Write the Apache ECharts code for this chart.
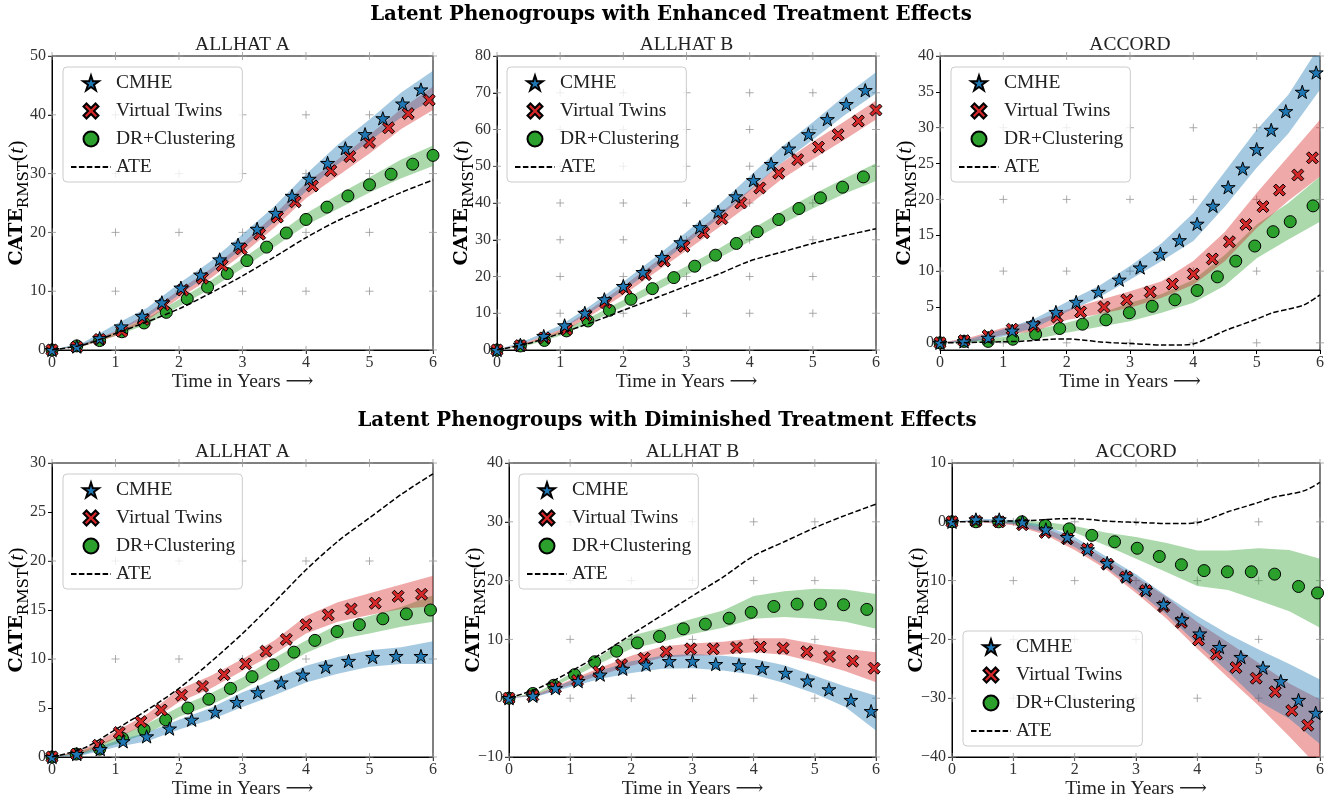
<!DOCTYPE html>
<html>
<head>
<meta charset="utf-8">
<script src="https://cdn.jsdelivr.net/npm/echarts@6/dist/echarts.min.js"></script>
<style>
  html, body { margin: 0; background: #fff; }
  #chart { width: 1340px; height: 801px; }
</style>
</head>
<body>
<div id="chart"></div>
<script>
// time grid the confidence bands are read on
const bandTime = [0, 0.5, 1, 1.5, 2, 2.5, 3, 3.5, 4, 4.5, 5, 5.5, 6]
const ateTimeAccord = [0, 0.25, 0.5, 0.75, 1, 1.25, 1.5, 1.75, 2, 2.25, 2.5, 2.75, 3, 3.25, 3.5, 3.75, 4, 4.25, 4.5, 4.75, 5, 5.25, 5.5, 5.75, 6]

// ATE curves (same for both phenogroup settings)
const aAte = [0, 0.9, 2.8, 4.8, 7.0, 9.7, 12.6, 15.8, 19.1, 22.0, 24.4, 26.8, 28.9]
const bAte = [0, 1.8, 4.5, 7.5, 10.8, 14.1, 17.4, 20.6, 24.2, 26.6, 29.0, 31.1, 33.0]
const cAte = [0, 0, 0.05, 0.1, 0.15, 0.2, 0.35, 0.5, 0.55, 0.4, 0.15, 0, -0.1, -0.2, -0.3, -0.3, -0.15, 0.7, 1.7, 2.5, 3.3, 4.2, 4.7, 5.3, 6.7]

// ---- enhanced, ALLHAT A
const aEnhCmheT = [0, 0.39, 0.75, 1.09, 1.42, 1.73, 2.03, 2.34, 2.64, 2.93, 3.23, 3.52, 3.78, 4.05, 4.34, 4.62, 4.93, 5.21, 5.52, 5.81]
const aEnhCmheY = [0, 0.6, 2.0, 4.0, 5.8, 8.1, 10.6, 12.8, 15.4, 17.9, 20.6, 23.3, 26.2, 29.1, 31.8, 34.3, 36.7, 39.4, 41.9, 44.3]
const aEnhCmheLo = [0, 0.8, 3.1, 5.6, 9.4, 13.0, 17.3, 21.8, 27.0, 31.6, 35.5, 39.6, 42.6]
const aEnhCmheHi = [0, 1.3, 4.4, 7.2, 11.3, 15.1, 19.7, 24.4, 29.9, 34.9, 39.2, 43.8, 47.5]
const aEnhVtT = [0, 0.39, 0.75, 1.1, 1.44, 1.76, 2.06, 2.37, 2.68, 2.98, 3.27, 3.55, 3.83, 4.1, 4.39, 4.69, 5.0, 5.3, 5.61, 5.94]
const aEnhVtY = [0, 0.5, 1.8, 3.2, 5.2, 7.7, 10.2, 12.2, 14.4, 17.2, 19.7, 22.6, 25.2, 27.9, 30.5, 32.9, 35.3, 37.8, 40.2, 42.5]
const aEnhVtLo = [0, 0.7, 2.4, 5.0, 8.8, 12.2, 16.3, 20.8, 25.8, 29.6, 33.4, 37.6, 40.8]
const aEnhVtHi = [0, 1.1, 3.2, 6.2, 10.2, 13.8, 18.1, 23.0, 28.4, 32.4, 36.6, 41.0, 44.8]
const aEnhDrT = [0, 0.39, 0.75, 1.1, 1.45, 1.8, 2.13, 2.45, 2.76, 3.07, 3.38, 3.69, 4.0, 4.33, 4.66, 5.0, 5.34, 5.68, 6.0]
const aEnhDrY = [0, 0.7, 1.6, 3.1, 4.6, 6.4, 8.7, 10.7, 13.0, 15.2, 17.5, 19.9, 22.2, 24.3, 26.2, 28.1, 29.9, 31.6, 33.1]
const aEnhDrLo = [0, 0.7, 2.4, 4.4, 7.4, 10.4, 13.9, 17.5, 21.2, 24.0, 26.8, 29.2, 31.3]
const aEnhDrHi = [0, 1.1, 3.0, 5.4, 8.6, 11.8, 15.5, 19.3, 23.2, 26.4, 29.4, 32.4, 34.8]

// ---- enhanced, ALLHAT B
const bEnhCmheT = [0, 0.37, 0.74, 1.07, 1.39, 1.7, 2.0, 2.31, 2.61, 2.91, 3.21, 3.5, 3.78, 4.06, 4.34, 4.62, 4.93, 5.23, 5.53, 5.83]
const bEnhCmheY = [0, 1.4, 3.8, 6.7, 10.1, 13.8, 17.4, 21.2, 25.3, 29.3, 33.4, 37.6, 41.8, 46.2, 50.6, 54.8, 58.7, 62.8, 66.9, 70.7]
const bEnhCmheLo = [0, 2.3, 5.5, 10.5, 16.2, 22.4, 28.9, 35.8, 43.3, 50.8, 57.2, 63.9, 69.8]
const bEnhCmheHi = [0, 2.9, 6.7, 12.3, 18.6, 25.2, 32.1, 39.4, 47.3, 55.2, 62.0, 69.1, 75.6]
const bEnhVtT = [0, 0.37, 0.75, 1.1, 1.41, 1.72, 2.04, 2.35, 2.65, 2.96, 3.27, 3.56, 3.86, 4.16, 4.46, 4.76, 5.09, 5.4, 5.72, 6.0]
const bEnhVtY = [0, 1.2, 3.3, 5.6, 9.4, 12.9, 16.7, 20.5, 24.2, 28.2, 31.9, 35.7, 40.0, 44.1, 48.1, 51.8, 55.2, 58.6, 62.3, 65.3]
const bEnhVtLo = [0, 1.7, 4.4, 9.5, 15.0, 21.0, 27.1, 33.2, 39.6, 46.4, 51.9, 57.2, 62.7]
const bEnhVtHi = [0, 2.3, 5.6, 11.3, 17.4, 23.8, 30.3, 36.8, 43.6, 50.8, 56.7, 62.2, 67.9]
const bEnhDrT = [0, 0.37, 0.75, 1.1, 1.44, 1.78, 2.12, 2.46, 2.8, 3.13, 3.46, 3.79, 4.12, 4.46, 4.78, 5.12, 5.47, 5.8]
const bEnhDrY = [0, 1.1, 2.6, 5.2, 7.9, 10.8, 13.8, 16.7, 19.7, 22.8, 25.8, 29.0, 32.2, 35.5, 38.5, 41.4, 44.3, 47.1]
const bEnhDrLo = [0, 1.3, 3.9, 7.7, 11.8, 16.0, 20.4, 24.9, 29.5, 34.2, 38.5, 42.5, 46.0]
const bEnhDrHi = [0, 1.9, 5.1, 9.1, 13.6, 18.2, 22.8, 27.5, 32.5, 37.6, 42.3, 46.7, 50.8]

// ---- enhanced, ACCORD
const cEnhCmheT = [0, 0.38, 0.76, 1.14, 1.47, 1.83, 2.15, 2.5, 2.83, 3.16, 3.48, 3.78, 4.06, 4.31, 4.55, 4.78, 5.0, 5.23, 5.46, 5.72, 5.94]
const cEnhCmheY = [0, 0.2, 0.7, 1.7, 2.7, 4.3, 5.7, 7.1, 8.8, 10.5, 12.4, 14.3, 16.6, 19.1, 21.7, 24.3, 27.0, 29.7, 32.3, 35.0, 37.7]
const cEnhCmheLo = [0, 0.1, 0.9, 2.1, 4.3, 6.3, 8.8, 11.4, 14.2, 19.0, 24.4, 29.2, 35.3]
const cEnhCmheHi = [0, 0.6, 1.9, 3.4, 5.7, 7.9, 10.7, 13.9, 18.1, 23.9, 29.7, 34.6, 41.5]
const cEnhVtT = [0, 0.38, 0.76, 1.14, 1.49, 1.85, 2.22, 2.59, 2.95, 3.32, 3.67, 4.0, 4.3, 4.57, 4.83, 5.1, 5.36, 5.65, 5.88]
const cEnhVtY = [0, 0.3, 1.0, 1.9, 2.3, 3.6, 4.3, 5.0, 6.0, 7.1, 8.2, 9.6, 11.7, 14.1, 16.5, 19.0, 21.3, 23.4, 25.8]
const cEnhVtLo = [0, 0.2, 1.1, 1.6, 3.2, 4.0, 4.9, 6.3, 8.1, 11.4, 16.0, 19.8, 23.2]
const cEnhVtHi = [0, 0.8, 2.1, 3.0, 4.6, 5.9, 7.2, 8.6, 11.4, 15.5, 20.9, 26.0, 31.1]
const cEnhDrT = [0, 0.38, 0.76, 1.15, 1.51, 1.89, 2.25, 2.62, 2.99, 3.35, 3.71, 4.06, 4.38, 4.67, 4.97, 5.26, 5.53, 5.89]
const cEnhDrY = [0, 0.2, 0.2, 0.5, 1.2, 2.0, 2.6, 3.2, 4.2, 5.1, 6.0, 7.3, 9.2, 11.4, 13.5, 15.5, 16.9, 19.1]
const cEnhDrLo = [0, 0, 0.1, 0.5, 1.4, 2.2, 3.0, 4.2, 5.6, 8.0, 11.8, 14.4, 16.9]
const cEnhDrHi = [0, 0.4, 0.8, 1.8, 2.8, 4.0, 5.6, 6.8, 8.8, 12.3, 16.5, 19.5, 23.2]

// ---- diminished, ALLHAT A
const aDimCmheT = [0, 0.39, 0.76, 1.12, 1.49, 1.85, 2.2, 2.57, 2.91, 3.24, 3.61, 3.95, 4.31, 4.67, 5.05, 5.42, 5.81]
const aDimCmheY = [0, 0.3, 0.8, 1.6, 2.1, 2.9, 3.8, 4.6, 5.6, 6.6, 7.6, 8.4, 9.2, 9.8, 10.2, 10.3, 10.3]
const aDimCmheLo = [0, 0.2, 1.0, 1.6, 2.8, 3.8, 5.1, 6.3, 7.6, 8.5, 9.2, 9.5, 9.5]
const aDimCmheHi = [0, 0.5, 1.6, 2.5, 3.8, 5.0, 6.6, 7.9, 9.3, 10.2, 10.9, 11.2, 11.8]
const aDimVtT = [0, 0.39, 0.73, 1.06, 1.4, 1.72, 2.04, 2.37, 2.71, 3.05, 3.37, 3.69, 4.0, 4.35, 4.71, 5.09, 5.45, 5.82]
const aDimVtY = [0, 0.3, 1.2, 2.5, 3.6, 4.8, 6.3, 7.2, 8.4, 9.5, 10.8, 12.0, 13.5, 14.5, 15.1, 15.7, 16.4, 16.6]
const aDimVtLo = [0, 0.4, 1.9, 3.4, 5.6, 7.0, 8.8, 10.5, 12.6, 13.8, 14.5, 15.1, 15.4]
const aDimVtHi = [0, 0.8, 2.6, 4.4, 6.9, 8.3, 10.0, 11.9, 14.4, 15.8, 16.7, 17.6, 18.5]
const aDimDrT = [0, 0.38, 0.75, 1.11, 1.45, 1.79, 2.14, 2.47, 2.81, 3.15, 3.48, 3.81, 4.14, 4.49, 4.84, 5.21, 5.58, 5.96]
const aDimDrY = [0, 0.3, 0.8, 1.9, 2.8, 3.8, 5.0, 5.9, 7.0, 8.2, 9.4, 10.7, 11.9, 12.8, 13.5, 14.1, 14.6, 15.0]
const aDimDrLo = [0, 0.3, 1.3, 2.4, 4.1, 5.3, 6.9, 8.7, 10.6, 12.0, 12.6, 13.3, 13.8]
const aDimDrHi = [0, 0.7, 2.0, 3.4, 5.1, 6.5, 8.1, 10.1, 11.9, 13.5, 14.4, 15.3, 16.5]

// ---- diminished, ALLHAT B
const bDimCmheT = [0, 0.39, 0.76, 1.13, 1.49, 1.86, 2.24, 2.62, 3.0, 3.38, 3.76, 4.14, 4.52, 4.88, 5.23, 5.59, 5.92]
const bDimCmheY = [0, 0.4, 1.7, 2.9, 4.0, 5.0, 5.7, 6.3, 6.3, 5.8, 5.6, 5.1, 4.3, 3.0, 1.5, -0.3, -2.2]
const bDimCmheLo = [0, 0.4, 1.9, 3.3, 4.3, 5.0, 5.1, 4.7, 4.0, 2.6, 0.8, -1.5, -5.5]
const bDimCmheHi = [0, 0.8, 2.9, 4.7, 6.3, 7.2, 7.5, 7.2, 6.7, 5.6, 3.8, 2.0, 0.4]
const bDimVtT = [0, 0.39, 0.76, 1.12, 1.47, 1.84, 2.21, 2.57, 2.97, 3.34, 3.72, 4.11, 4.48, 4.87, 5.24, 5.62, 5.97]
const bDimVtY = [0, 0.4, 1.8, 3.0, 4.5, 5.7, 6.8, 7.9, 8.4, 8.4, 8.6, 8.7, 8.5, 7.9, 7.1, 6.3, 5.1]
const bDimVtLo = [0, 0.5, 2.2, 4.0, 5.5, 6.9, 7.2, 7.4, 7.8, 7.4, 6.1, 4.6, 2.7]
const bDimVtHi = [0, 0.9, 3.1, 5.2, 7.2, 8.8, 9.3, 9.6, 10.2, 10.2, 9.2, 8.4, 7.8]
const bDimDrT = [0, 0.39, 0.73, 1.07, 1.4, 1.76, 2.1, 2.46, 2.85, 3.21, 3.6, 3.96, 4.33, 4.71, 5.09, 5.47, 5.85]
const bDimDrY = [0, 0.8, 2.2, 4.0, 6.2, 8.0, 9.4, 10.5, 11.8, 12.6, 13.6, 14.6, 15.6, 16.0, 16.0, 15.9, 15.1]
const bDimDrLo = [0, 0.8, 3.3, 6.0, 8.4, 9.6, 10.9, 12.0, 13.5, 13.8, 13.5, 13.0, 11.8]
const bDimDrHi = [0, 1.2, 4.1, 7.2, 10.6, 12.0, 13.5, 14.9, 17.4, 18.2, 18.6, 18.5, 17.7]

// ---- diminished, ACCORD
const cDimCmheT = [0, 0.39, 0.77, 1.15, 1.53, 1.88, 2.21, 2.53, 2.84, 3.16, 3.45, 3.75, 4.04, 4.36, 4.71, 5.07, 5.36, 5.65, 5.93]
const cDimCmheY = [0, 0.4, 0.4, 0, -1.3, -2.6, -4.7, -7.0, -9.3, -11.6, -14.0, -16.6, -19.0, -21.3, -23.0, -24.8, -27.1, -30.3, -32.5]
const cDimCmheLo = [0, 0, -0.4, -1.8, -4.3, -7.6, -11.6, -15.8, -20.8, -25.5, -30.5, -33.5, -37.8]
const cDimCmheHi = [0, 0.5, 0.3, -0.6, -2.6, -5.8, -8.9, -12.6, -16.0, -19.1, -21.7, -24.2, -26.8]
const cDimVtT = [0, 0.39, 0.77, 1.15, 1.52, 1.88, 2.21, 2.53, 2.84, 3.16, 3.45, 3.74, 4.02, 4.31, 4.63, 4.96, 5.27, 5.54, 5.8]
const cDimVtY = [0, 0.1, 0, -0.5, -1.8, -2.9, -4.6, -7.2, -9.4, -11.7, -14.4, -17.1, -20.1, -22.5, -24.8, -26.6, -28.9, -32.1, -34.6]
const cDimVtLo = [0, -0.1, -0.6, -2.1, -4.8, -8.0, -12.1, -16.5, -21.6, -26.5, -31.3, -36.5, -42.0]
const cDimVtHi = [0, 0.3, -0.1, -1.0, -3.2, -6.3, -9.4, -12.8, -17.1, -20.5, -24.0, -27.5, -30.2]
const cDimDrT = [0, 0.39, 0.76, 1.14, 1.52, 1.91, 2.28, 2.65, 3.02, 3.38, 3.74, 4.11, 4.49, 4.88, 5.26, 5.65, 5.96]
const cDimDrY = [0, 0, 0, 0, -0.6, -1.2, -2.3, -3.4, -4.5, -5.9, -7.3, -8.3, -8.5, -8.5, -8.9, -11.0, -12.1]
const cDimDrLo = [0, 0, -0.3, -1.0, -1.8, -4.0, -6.3, -8.6, -10.9, -11.6, -13.4, -15.2, -18.0]
const cDimDrHi = [0, 0.1, 0.2, 0, -0.7, -1.8, -2.6, -3.6, -4.9, -4.9, -4.5, -4.8, -6.3]

// axis ticks
const xTicks = [0, 1, 2, 3, 4, 5, 6]
const yTicksAEnh = [0, 10, 20, 30, 40, 50]
const yTicksBEnh = [0, 10, 20, 30, 40, 50, 60, 70, 80]
const yTicksCEnh = [0, 5, 10, 15, 20, 25, 30, 35, 40]
const yGridCEnh = [0, 10, 20, 30, 40]
const yTicksADim = [0, 5, 10, 15, 20, 25, 30]
const yGridADim = [0, 10, 20, 30]
const yTicksBDim = [-10, 0, 10, 20, 30, 40]
const yTicksCDim = [-40, -30, -20, -10, 0, 10]

const SERIF = '"Liberation Serif", "DejaVu Serif", serif'
const BLUE = '#1f77b4', RED = '#d62728', GREEN = '#2ca02c'
const STAR = 'path://M50,0L61.23,34.55L97.55,34.55L68.17,55.9L79.39,90.45L50,69.1L20.61,90.45L31.83,55.9L2.45,34.55L38.77,34.55Z'
const XMARK = 'path://M20,0L50,30L80,0L100,20L70,50L100,80L80,100L50,70L20,100L0,80L30,50L0,20Z'
const PLUS = 'path://M0,50L100,50M50,0L50,100'

const panels = [
  { title: 'ALLHAT A', left: 52, top: 56, width: 381, yMin: 0, yMax: 50, yTicks: yTicksAEnh, yGrid: yTicksAEnh, legend: [63, 67],
    ateT: bandTime, ate: aAte,
    cmhe: [aEnhCmheT, aEnhCmheY, aEnhCmheLo, aEnhCmheHi], vt: [aEnhVtT, aEnhVtY, aEnhVtLo, aEnhVtHi], dr: [aEnhDrT, aEnhDrY, aEnhDrLo, aEnhDrHi] },
  { title: 'ALLHAT B', left: 497, top: 56, width: 379, yMin: 0, yMax: 80, yTicks: yTicksBEnh, yGrid: yTicksBEnh, legend: [507, 67],
    ateT: bandTime, ate: bAte,
    cmhe: [bEnhCmheT, bEnhCmheY, bEnhCmheLo, bEnhCmheHi], vt: [bEnhVtT, bEnhVtY, bEnhVtLo, bEnhVtHi], dr: [bEnhDrT, bEnhDrY, bEnhDrLo, bEnhDrHi] },
  { title: 'ACCORD', left: 940, top: 56, width: 380, yMin: -1, yMax: 40, yTicks: yTicksCEnh, yGrid: yGridCEnh, legend: [951, 67],
    ateT: ateTimeAccord, ate: cAte,
    cmhe: [cEnhCmheT, cEnhCmheY, cEnhCmheLo, cEnhCmheHi], vt: [cEnhVtT, cEnhVtY, cEnhVtLo, cEnhVtHi], dr: [cEnhDrT, cEnhDrY, cEnhDrLo, cEnhDrHi] },
  { title: 'ALLHAT A', left: 52, top: 463, width: 381, yMin: 0, yMax: 30, yTicks: yTicksADim, yGrid: yGridADim, legend: [63, 474],
    ateT: bandTime, ate: aAte,
    cmhe: [aDimCmheT, aDimCmheY, aDimCmheLo, aDimCmheHi], vt: [aDimVtT, aDimVtY, aDimVtLo, aDimVtHi], dr: [aDimDrT, aDimDrY, aDimDrLo, aDimDrHi] },
  { title: 'ALLHAT B', left: 509, top: 463, width: 367, yMin: -10, yMax: 40, yTicks: yTicksBDim, yGrid: yTicksBDim, legend: [519, 474],
    ateT: bandTime, ate: bAte,
    cmhe: [bDimCmheT, bDimCmheY, bDimCmheLo, bDimCmheHi], vt: [bDimVtT, bDimVtY, bDimVtLo, bDimVtHi], dr: [bDimDrT, bDimDrY, bDimDrLo, bDimDrHi] },
  { title: 'ACCORD', left: 952, top: 463, width: 368, yMin: -40, yMax: 10, yTicks: yTicksCDim, yGrid: yTicksCDim, legend: [963, 631],
    ateT: ateTimeAccord, ate: cAte,
    cmhe: [cDimCmheT, cDimCmheY, cDimCmheLo, cDimCmheHi], vt: [cDimVtT, cDimVtY, cDimVtLo, cDimVtHi], dr: [cDimDrT, cDimDrY, cDimDrLo, cDimDrHi] }
]
const PLOT_H = 294

const zip = (xs, ys) => xs.map((x, i) => [x, ys[i]])
const minus = v => String(v).replace('-', '\u2212')

function band(i, lo, hi, fill) {
  return {
    type: 'custom', name: 'band', xAxisIndex: i, yAxisIndex: i, silent: true, clip: true,
    data: bandTime.map((t, k) => [t, lo[k], hi[k]]),
    renderItem: (params, api) => {
      if (params.dataIndexInside !== 0) return
      const upper = bandTime.map((t, k) => api.coord([t, hi[k]]))
      const lower = bandTime.map((t, k) => api.coord([t, lo[k]])).reverse()
      return { type: 'polygon', shape: { points: upper.concat(lower) }, style: { fill: fill } }
    }
  }
}

function marks(i, name, pts, symbol, size, color) {
  return {
    type: 'scatter', name: name, xAxisIndex: i, yAxisIndex: i,
    symbol: symbol, symbolSize: size, symbolKeepAspect: true,
    itemStyle: { color: color, borderColor: '#000', borderWidth: 1, opacity: 1 },
    data: zip(pts[0], pts[1])
  }
}

const grids = [], xAxes = [], yAxes = [], series = [], legends = []
const titles = [
  { text: 'Latent Phenogroups with Enhanced Treatment Effects', left: 671, top: 5, textAlign: 'center', padding: 0,
    textStyle: { fontFamily: '"DejaVu Serif", serif', fontWeight: 'bold', fontSize: 19.8, color: '#000' } },
  { text: 'Latent Phenogroups with Diminished Treatment Effects', left: 667, top: 411, textAlign: 'center', padding: 0,
    textStyle: { fontFamily: '"DejaVu Serif", serif', fontWeight: 'bold', fontSize: 19.8, color: '#000' } }
]

panels.forEach((p, i) => {
  grids.push({ left: p.left, top: p.top, width: p.width, height: PLOT_H, show: true, borderColor: '#000', borderWidth: 1, containLabel: false })
  titles.push({ text: p.title, left: p.left + p.width / 2, top: p.top - 21, textAlign: 'center', padding: 0,
    textStyle: { fontFamily: SERIF, fontWeight: 'normal', fontSize: 19.5, color: '#222' } })
  xAxes.push({
    type: 'value', gridIndex: i, min: 0, max: 6, interval: 1,
    axisLine: { show: true, onZero: false, lineStyle: { color: '#000', width: 1 } },
    axisTick: { show: true, length: 4, lineStyle: { color: '#000' } },
    axisLabel: { fontFamily: SERIF, fontSize: 16, color: '#333', margin: 5 },
    splitLine: { show: false },
    name: 'Time in Years \u27F6', nameLocation: 'middle', nameGap: 22, nameMoveOverlap: false,
    nameTextStyle: { fontFamily: SERIF, fontSize: 19.5, color: '#222' }
  })
  const yAxis = {
    type: 'value', gridIndex: i, min: p.yMin, max: p.yMax,
    axisLine: { show: true, onZero: false, lineStyle: { color: '#000', width: 1 } },
    axisTick: { show: true, length: 4, lineStyle: { color: '#000' } },
    axisLabel: { fontFamily: SERIF, fontSize: 16, color: '#333', margin: 6, formatter: minus },
    splitLine: { show: false },
    name: '{b|CATE}{s|RMST}{n|(}{i|t}{n|)}', nameLocation: 'middle', nameGap: 20, nameMoveOverlap: false,
    nameTextStyle: { rich: {
      b: { fontFamily: '"DejaVu Serif", serif', fontWeight: 'bold', fontSize: 19, lineHeight: 30, color: '#000' },
      s: { fontFamily: '"DejaVu Serif", serif', fontSize: 15, lineHeight: 21, verticalAlign: 'bottom', color: '#000' },
      n: { fontFamily: SERIF, fontSize: 22, lineHeight: 30, color: '#000' },
      i: { fontFamily: SERIF, fontStyle: 'italic', fontSize: 22, lineHeight: 30, color: '#000' }
    } }
  }
  if (p.yMin % 5 === 0) {
    yAxis.interval = p.yTicks[1] - p.yTicks[0]
  } else {
    yAxis.axisLabel.customValues = p.yTicks
    yAxis.axisTick.customValues = p.yTicks
  }
  yAxes.push(yAxis)

  // grey "+" marks at the tick crossings
  const crossings = []
  xTicks.forEach(x => p.yGrid.forEach(y => crossings.push([x, y])))
  series.push({
    type: 'scatter', name: 'grid', xAxisIndex: i, yAxisIndex: i, silent: true, clip: false,
    symbol: PLUS, symbolSize: 8, z: 1,
    itemStyle: { color: 'rgba(0,0,0,0)', borderColor: '#999', borderWidth: 1 },
    data: crossings
  })
  series.push({
    type: 'line', name: 'ATE', xAxisIndex: i, yAxisIndex: i, data: zip(p.ateT, p.ate),
    smooth: 0.3, symbol: 'circle', showSymbol: false,
    lineStyle: { color: '#000', width: 1.5, type: [5.5, 2.4] },
    itemStyle: { color: 'rgba(0,0,0,0)', borderWidth: 0 }
  })
  series.push(band(i, p.dr[2], p.dr[3], 'rgba(44,160,44,0.4)'))
  series.push(marks(i, 'DR+Clustering', p.dr, 'circle', 12, GREEN))
  series.push(band(i, p.vt[2], p.vt[3], 'rgba(214,39,40,0.4)'))
  series.push(marks(i, 'Virtual Twins', p.vt, XMARK, 12, RED))
  series.push(band(i, p.cmhe[2], p.cmhe[3], 'rgba(31,119,180,0.4)'))
  series.push(marks(i, 'CMHE', p.cmhe, STAR, 14, BLUE))

  legends.push({
    left: p.legend[0], top: p.legend[1], orient: 'vertical', selectedMode: false,
    itemWidth: 40, itemHeight: 15, itemGap: 6, padding: [5, 7, 4, 7],
    backgroundColor: 'rgba(255,255,255,0.8)', borderColor: '#ccc', borderWidth: 1, borderRadius: 4,
    textStyle: { fontFamily: SERIF, fontSize: 19.5, color: '#222', lineHeight: 22 },
    data: ['CMHE', 'Virtual Twins', 'DR+Clustering', 'ATE']
  })
})

const myChart = echarts.init(document.getElementById('chart'))
myChart.setOption({
  animation: false,
  backgroundColor: '#fff',
  title: titles,
  grid: grids,
  xAxis: xAxes,
  yAxis: yAxes,
  legend: legends,
  series: series
})
</script>
</body>
</html>
